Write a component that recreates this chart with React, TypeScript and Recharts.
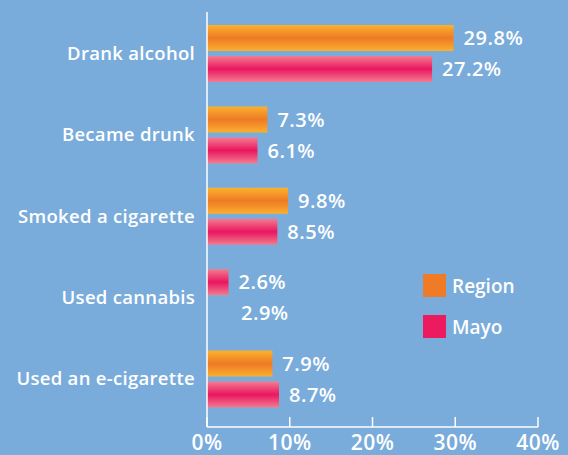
import { BarChart, Bar, XAxis, YAxis, Legend, LabelList, Cell } from 'recharts';

document.body.style.margin = '0';

const categories = ['Drank alcohol', 'Became drunk', 'Smoked a cigarette', 'Used cannabis', 'Used an e-cigarette'];
const regionValues = [29.8, 7.3, 9.8, 2.6, 7.9];
const mayoValues = [27.2, 6.1, 8.5, 2.9, 8.7];
const xTicks = [0, 10, 20, 30, 40];

const data = categories.map((name, i) => ({
  name,
  region: regionValues[i],
  mayo: mayoValues[i],
}));

const FONT = '"Open Sans", sans-serif';
const BG = '#7aacdb';

const XTick = (props: any) => {
  const { x, y, payload } = props;
  return (
    <g>
      <line x1={x} x2={x} y1={y - 10} y2={y} stroke="#fff" strokeWidth={1.5} />
      <text x={x} y={y + 23} textAnchor="middle" fill="#fff" fontSize={21} fontWeight={600} fontFamily={FONT} letterSpacing={0.5}>
        {payload.value}%
      </text>
    </g>
  );
};

const YTick = (props: any) => {
  const { x, y, payload } = props;
  return (
    <text x={x} y={y} dy={6} textAnchor="end" fill="#fff" fontSize={18.5} fontWeight={600} fontFamily={FONT} letterSpacing={0.3}>
      {payload.value}
    </text>
  );
};

const LegendBox = () => (
  <div style={{ fontFamily: FONT, fontSize: 19, fontWeight: 600, color: '#fff' }}>
    <div style={{ display: 'flex', alignItems: 'center', height: 23, marginBottom: 18 }}>
      <span style={{ width: 23, height: 23, background: '#ef7b26', display: 'inline-block', marginRight: 6 }} />
      Region
    </div>
    <div style={{ display: 'flex', alignItems: 'center', height: 23 }}>
      <span style={{ width: 23, height: 23, background: '#ec1a5e', display: 'inline-block', marginRight: 6 }} />
      Mayo
    </div>
  </div>
);

const labelStyle = { fill: '#fff', fontSize: 20, fontWeight: 600, fontFamily: FONT, letterSpacing: 0.5 };

export default function App() {
  return (
    <div style={{ width: 568, height: 455, background: BG }}>
      <BarChart
        width={568}
        height={455}
        data={data}
        layout="vertical"
        margin={{ top: 12, right: 30, bottom: 0, left: 0 }}
        barSize={26}
        barGap={5}
      >
        <defs>
          <linearGradient id="gradRegion" x1="0" y1="0" x2="0" y2="1">
            <stop offset="0%" stopColor="#fbb22e" />
            <stop offset="50%" stopColor="#ee7a25" />
            <stop offset="100%" stopColor="#fbaf2e" />
          </linearGradient>
          <linearGradient id="gradMayo" x1="0" y1="0" x2="0" y2="1">
            <stop offset="0%" stopColor="#f27d8f" />
            <stop offset="50%" stopColor="#ea1660" />
            <stop offset="100%" stopColor="#f27d8f" />
          </linearGradient>
        </defs>
        <XAxis
          type="number"
          domain={[0, 40]}
          ticks={xTicks}
          height={28}
          axisLine={{ stroke: '#fff', strokeWidth: 1.5 }}
          tickLine={false}
          tickSize={0}
          tickMargin={0}
          tick={<XTick />}
          interval={0}
        />
        <YAxis
          type="category"
          dataKey="name"
          width={207}
          axisLine={{ stroke: '#fff', strokeWidth: 1.5 }}
          tickLine={false}
          tickSize={0}
          tickMargin={12}
          tick={<YTick />}
          padding={{ top: 1, bottom: 7 }}
        />
        <Legend
          layout="horizontal"
          verticalAlign="middle"
          align="center"
          content={<LegendBox />}
          wrapperStyle={{ top: 274, left: 423, width: 120 }}
        />
        <Bar dataKey="region" fill="url(#gradRegion)" isAnimationActive={false}>
          {data.map((d, i) => (
            <Cell key={d.name} fill={i === 3 ? 'url(#gradMayo)' : 'url(#gradRegion)'} />
          ))}
          <LabelList dataKey="region" position="right" offset={10} formatter={(v: any) => `${v}%`} style={labelStyle} />
        </Bar>
        <Bar dataKey="mayo" fill="url(#gradMayo)" isAnimationActive={false}>
          {data.map((d, i) => (
            <Cell key={d.name} fill={i === 3 ? 'transparent' : 'url(#gradMayo)'} />
          ))}
          <LabelList dataKey="mayo" position="right" offset={10} formatter={(v: any) => `${v}%`} style={labelStyle} />
        </Bar>
      </BarChart>
    </div>
  );
}
